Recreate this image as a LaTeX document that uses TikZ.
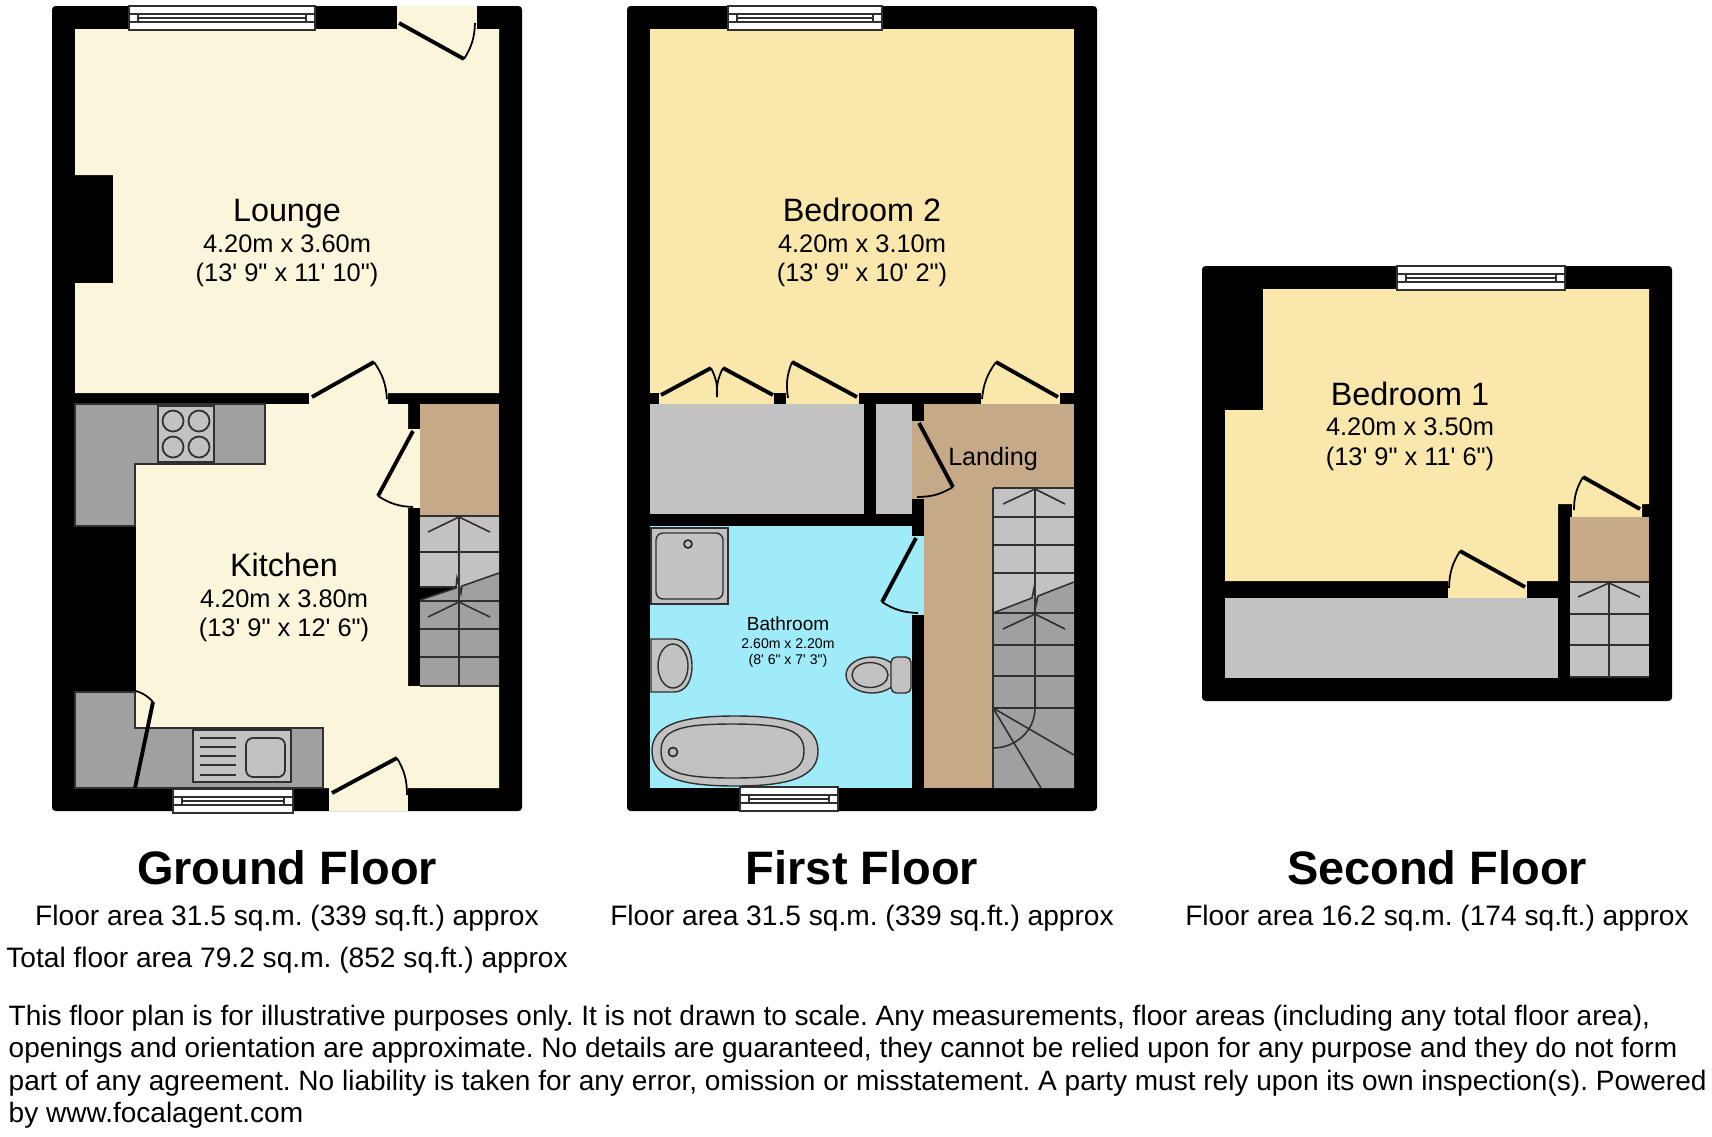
\documentclass[tikz,border=0pt]{standalone}
\usepackage{fontspec}
\newfontfamily\planfont{Liberation Sans}
\frenchspacing
\definecolor{creamroom}{HTML}{FBF5DC}
\definecolor{yellowroom}{HTML}{F9E7AB}
\definecolor{brownroom}{HTML}{C6AA88}
\definecolor{blueroom}{HTML}{A0EBF9}
\definecolor{lightunit}{HTML}{C2C2C2}
\definecolor{darkunit}{HTML}{A0A0A0}
\definecolor{linegray}{HTML}{303030}
\tikzset{
  plantext/.style={inner sep=0pt,anchor=base,font=\planfont,text=black},
  roomname/.style={plantext,font=\planfont\fontsize{9.2}{11}\selectfont},
  roomsize/.style={plantext,font=\planfont\fontsize{7.22}{9}\selectfont},
  floorname/.style={plantext,font=\planfont\bfseries\fontsize{13.35}{16}\selectfont},
  floorarea/.style={plantext,font=\planfont\fontsize{8}{10}\selectfont},
  noteline/.style={plantext,anchor=base west,font=\planfont\fontsize{7.97}{10}\selectfont},
  fixture/.style={draw=linegray,line width=0.4pt},
  treadline/.style={draw=linegray,line width=0.45pt},
  doorleaf/.style={draw=black,line width=1.1pt},
  doorswing/.style={draw=black,line width=0.5pt},
  windowpane/.style={draw=linegray,line width=0.45pt,fill=white},
}
\begin{document}
\begin{tikzpicture}[x=0.01cm,y=-0.01cm]
	\useasboundingbox (0,0) rectangle (1712,1136);
	\fill [white] (0,0) rectangle (1712,1136);

	% outer walls
	\fill [black,rounded corners=1pt] (52,6) rectangle (522,811);
	\fill [black,rounded corners=1pt] (627,6) rectangle (1097,811);
	\fill [black,rounded corners=1pt] (1202,266) rectangle (1672,701);

	% ground floor
	\fill [creamroom] (75,29) -- (499,29) -- (499,393) -- (75,393) -- (75,283) -- (113,283) -- (113,175) -- (75,175) -- cycle;
	\fill [creamroom] (75,404) -- (408,404) -- (408,686) -- (499,686) -- (499,788) -- (75,788) -- cycle;
	\fill [creamroom] (397,6) rectangle (477,29);
	\fill [creamroom] (309,393) rectangle (388,404);
	\fill [creamroom] (408,429) rectangle (420,508);
	\fill [creamroom] (329,788) rectangle (408,811);
	\fill [brownroom] (420,404) rectangle (499,515);

	\fill [black] (75,526) rectangle (136,692);
	\path [fixture,fill=darkunit] (75,404) -- (265,404) -- (265,464) -- (135,464) -- (135,526) -- (75,526) -- cycle;
	\path [fixture,fill=darkunit] (75,692) -- (135,692) -- (135,728) -- (323,728) -- (323,788) -- (75,788) -- cycle;
	\draw [fixture,fill=lightunit] (158,406) rectangle (214,462);
	\foreach \cx/\cy in {173/421,199/421,173/447,199/447}
		\draw [fixture,line width=0.5pt] (\cx,\cy) circle (10.5);
	\draw [fixture,fill=lightunit,line width=0.6pt] (193,730) rectangle (291,782);
	\foreach \cy in {738,747,756,765,775}
		\draw [fixture] (200,\cy) -- (236,\cy);
	\draw [fixture,line width=0.5pt,rounded corners=2pt] (246,738) rectangle (285,777);

	\fill [lightunit] (420,516) -- (499,516) -- (499,573) -- (420,600) -- cycle;
	\fill [darkunit] (420,600) -- (499,573) -- (499,686) -- (420,686) -- cycle;
	\fill [black] (420,587) -- (457,587) -- (420,600) -- cycle;
	\foreach \ty in {516,552,601,629,657,686}
		\draw [treadline] (420,\ty) -- (499,\ty);
	\draw [treadline] (420,587) -- (457,587);
	\draw [treadline] (459,516) -- (459,686);
	\draw [treadline] (420,600) -- (456,588) -- (457,578) -- (461,593) -- (462,586) -- (499,573);
	\draw [treadline] (428,532) -- (459,517) -- (490,532);
	\draw [treadline] (428,617) -- (459,602) -- (490,617);

	% first floor
	\fill [yellowroom] (650,29) rectangle (1074,393);
	\fill [yellowroom] (659,393) rectangle (774,404);
	\fill [yellowroom] (786,393) rectangle (859,404);
	\fill [yellowroom] (981,393) rectangle (1060,404);
	\fill [lightunit] (650,404) rectangle (864,514);
	\fill [lightunit] (876,404) rectangle (912,514);
	\fill [brownroom] (924,404) rectangle (1074,788);
	\fill [brownroom] (912,421) rectangle (924,499);
	\fill [blueroom] (650,526) rectangle (912,788);
	\fill [blueroom] (912,536) rectangle (924,615);

	\draw [fixture,fill=lightunit] (651,528) rectangle (728,604);
	\draw [fixture,fill=lightunit,rounded corners=2pt] (656,533) rectangle (723,599);
	\draw [fixture,line width=0.5pt] (688,544) circle (4);
	\draw [fixture,fill=lightunit] (651,639) -- (674,639) .. controls (685,639) and (692,650) .. (692,666) .. controls (692,682) and (685,692) .. (674,692) -- (651,692) -- cycle;
	\draw [fixture] (673,666) ellipse (15 and 22);
	\draw [fixture,fill=lightunit] (872,675) ellipse (26 and 18);
	\draw [fixture] (870,675) ellipse (18 and 12.5);
	\draw [fixture,fill=lightunit,rounded corners=1.5pt] (891,657) rectangle (911,693);
	\draw [fixture,fill=lightunit] (652,751) .. controls (652,725) and (680,716) .. (735,716) .. controls (790,716) and (818,725) .. (818,751) .. controls (818,777) and (790,786) .. (735,786) .. controls (680,786) and (652,777) .. (652,751) -- cycle;
	\draw [fixture] (661,751) .. controls (661,730) and (680,724) .. (732,724) .. controls (785,724) and (804,730) .. (804,751) .. controls (804,772) and (785,778) .. (732,778) .. controls (680,778) and (661,772) .. (661,751) -- cycle;
	\draw [fixture,line width=0.5pt] (673,752) circle (4.5);

	\fill [lightunit] (993,488) -- (1074,488) -- (1074,582) -- (993,613) -- cycle;
	\fill [darkunit] (993,613) -- (1074,582) -- (1074,788) -- (993,788) -- cycle;
	\foreach \ty in {488,517,545,573,613,645,676,708}
		\draw [treadline] (993,\ty) -- (1074,\ty);
	\draw [treadline] (993,488) -- (993,788);
	\draw [treadline] (1035,488) -- (1035,708);
	\draw [treadline] (993,613) -- (1032,598) -- (1034,588) -- (1036,605) -- (1038,596) -- (1074,582);
	\draw [treadline] (1003,504) -- (1035,489) -- (1065,504);
	\draw [treadline] (1003,629) -- (1035,614) -- (1065,629);
	\draw [treadline] (993,708) -- (1074,755);
	\draw [treadline] (993,708) -- (1041,788);
	\draw [treadline] (1035,708) to [out=-90,in=0] (993,748);

	% second floor
	\fill [yellowroom] (1263,289) -- (1649,289) -- (1649,504) -- (1642,504) -- (1642,517) -- (1572,517) -- (1572,504) -- (1558,504) -- (1558,581) -- (1225,581) -- (1225,410) -- (1263,410) -- cycle;
	\fill [yellowroom] (1448,581) rectangle (1527,598);
	\fill [brownroom] (1570,517) rectangle (1649,582);
	\fill [lightunit] (1225,598) rectangle (1558,678);
	\fill [lightunit] (1570,582) rectangle (1649,678);
	\foreach \ty in {582,614,645,677}
		\draw [treadline] (1570,\ty) -- (1649,\ty);
	\draw [treadline] (1609,582) -- (1609,677);
	\draw [treadline] (1578,597) -- (1609,583) -- (1640,597);

	% windows
	\foreach \xa/\ya/\xb in {129/6/315,173/789/293,728/6/882,740/787/838,1397/266/1565}{
		\draw [windowpane] (\xa,\ya) rectangle (\xb,\ya+24);
		\draw [treadline] (\xa,\ya+8) -- (\xb,\ya+8);
		\draw [treadline] (\xa,\ya+16) -- (\xb,\ya+16);
		\draw [treadline] (\xa+9,\ya+8) rectangle (\xb-9,\ya+16);
		\draw [treadline] (\xa+9,\ya+12) -- (\xb-9,\ya+12);
	}

	% doors: hinge, tip, end of swing, bend
	\foreach \hx/\hy/\tx/\ty/\ex/\ey/\bnd in {399/23/464/59/475/23/-15,312/397/374/362/387/399/15,413/431/378/496/413/507/-15,135/788/153/702/136/691/-15,332/793/397/758/407/795/15,661/395/711/368/717/397/15,773/395/723/368/717/397/-15,857/397/792/362/788/398/-15,1058/397/996/362/982/399/-15,919/423/953/487/917/497/15,916/538/882/602/918/613/-15,1525/587/1460/551/1449/588/-15,1640/509/1583/477/1574/510/-15}{
		\draw [doorleaf] (\hx,\hy) -- (\tx,\ty);
		\draw [doorswing] (\tx,\ty) to [bend left=\bnd] (\ex,\ey);
	}

	% room labels
	\node [roomname] (lounge) at (287,221) {Lounge};
	\node [roomsize] (loungem) at (287,252) {4.20m x 3.60m};
	\node [roomsize] (loungeft) at (287,281) {(13' 9" x 11' 10")};
	\node [roomname] (kitchen) at (284,576) {Kitchen};
	\node [roomsize] (kitchenm) at (284,607) {4.20m x 3.80m};
	\node [roomsize] (kitchenft) at (284,636) {(13' 9" x 12' 6")};
	\node [roomname] (bedtwo) at (862,221) {Bedroom 2};
	\node [roomsize] (bedtwom) at (862,252) {4.20m x 3.10m};
	\node [roomsize] (bedtwoft) at (862,281) {(13' 9" x 10' 2")};
	\node [roomsize,font=\planfont\fontsize{7.15}{9}\selectfont] (landing) at (993,465) {Landing};
	\node [plantext,font=\planfont\fontsize{5.4}{7}\selectfont] (bathroom) at (788,630) {Bathroom};
	\node [plantext,font=\planfont\fontsize{4}{5}\selectfont] (bathm) at (788,648) {2.60m x 2.20m};
	\node [plantext,font=\planfont\fontsize{4}{5}\selectfont] (bathft) at (788,664) {(8' 6" x 7' 3")};
	\node [roomname] (bedone) at (1410,405) {Bedroom 1};
	\node [roomsize] (bedonem) at (1410,435) {4.20m x 3.50m};
	\node [roomsize] (bedoneft) at (1410,465) {(13' 9" x 11' 6")};

	% floor captions
	\node [floorname] (ground) at (287,884) {Ground Floor};
	\node [floorname] (first) at (862,884) {First Floor};
	\node [floorname] (second) at (1437,884) {Second Floor};
	\node [floorarea] (groundarea) at (287,925) {Floor area 31.5 sq.m. (339 sq.ft.) approx};
	\node [floorarea] (firstarea) at (862,925) {Floor area 31.5 sq.m. (339 sq.ft.) approx};
	\node [floorarea] (secondarea) at (1437,925) {Floor area 16.2 sq.m. (174 sq.ft.) approx};
	\node [floorarea] (totalarea) at (287,967) {Total floor area 79.2 sq.m. (852 sq.ft.) approx};

	\node [noteline] (notea) at (8,1025) {This floor plan is for illustrative purposes only. It is not drawn to scale. Any measurements, floor areas (including any total floor area),};
	\node [noteline] (noteb) at (8,1057) {openings and orientation are approximate. No details are guaranteed, they cannot be relied upon for any purpose and they do not form};
	\node [noteline] (notec) at (8,1090) {part of any agreement. No liability is taken for any error, omission or misstatement. A party must rely upon its own inspection(s). Powered};
	\node [noteline] (noted) at (8,1122) {by www.focalagent.com};
\end{tikzpicture}
\end{document}
